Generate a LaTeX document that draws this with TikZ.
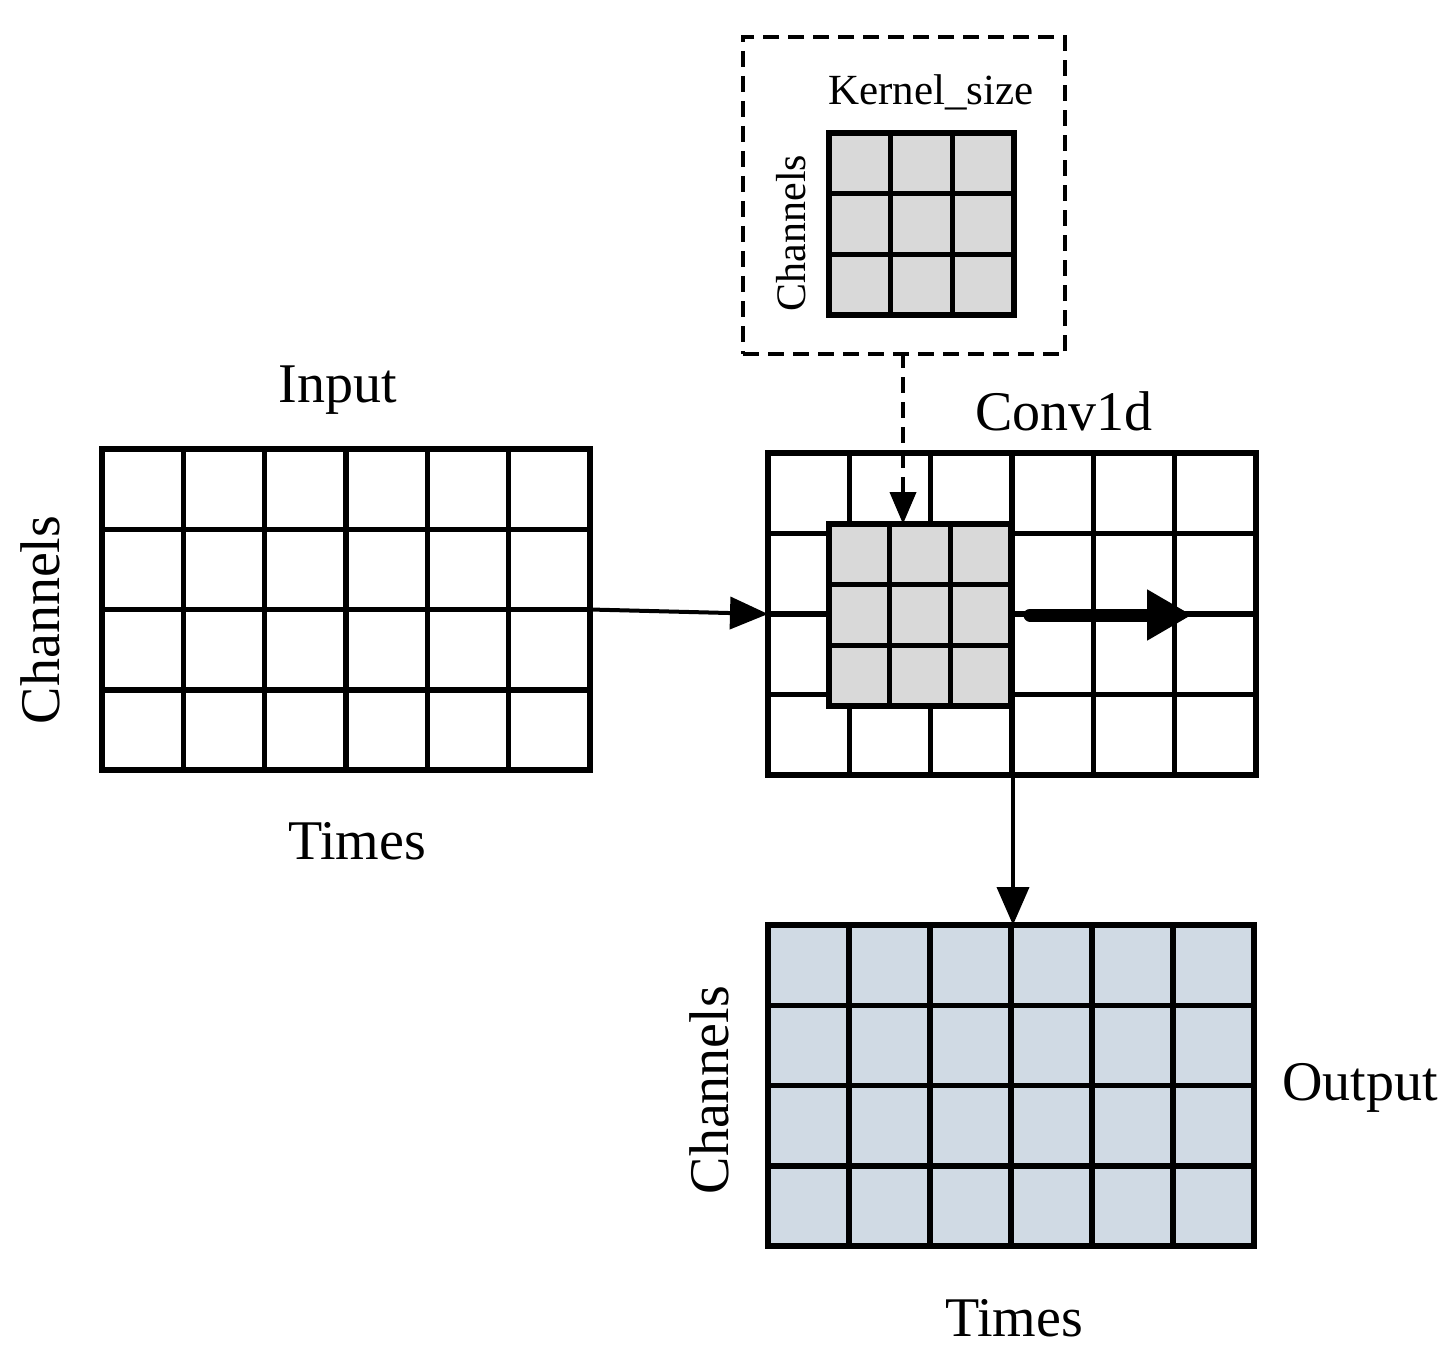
\documentclass[tikz,border=0pt]{standalone}
\usepackage{fontspec}
\setmainfont{Liberation Serif}
\usetikzlibrary{arrows.meta}
\definecolor{kgray}{RGB}{217,217,217}
\definecolor{oblue}{RGB}{208,218,228}
\tikzset{x=1pt,y=-1pt,
 grid/.style={draw,line width=5.5pt,inner sep=0,outer sep=0},
 lab/.style={font=\fontsize{56}{56}\selectfont},
 arr/.style={line width=4pt,-{Triangle[length=38pt,width=32pt]}}}
\newcommand{\mygrid}[7]{% name,x0,y0,x1,y1,cols,rows
 \node[grid,minimum width=#4-#2,minimum height=#5-#3,anchor=north west] (#1) at (#2,#3) {};
 \foreach \i in {1,...,#6}{\pgfmathsetmacro\xx{#2+(#4-#2)*\i/#6}\ifnum\i<#6\draw[line width=5.5pt] (\xx,#3)--(\xx,#5);\fi}
 \foreach \j in {1,...,#7}{\pgfmathsetmacro\yy{#3+(#5-#3)*\j/#7}\ifnum\j<#7\draw[line width=5.5pt] (#2,\yy)--(#4,\yy);\fi}
}
\begin{document}
\begin{tikzpicture}
\useasboundingbox (0,0) rectangle (1449,1367);
\fill[oblue] (768,925) rectangle (1254,1246);
\fill[kgray] (829,133) rectangle (1014,315);
\mygrid{in}{102}{449}{590}{770}{6}{4}
\mygrid{conv}{768}{453}{1256}{775}{6}{4}
\fill[kgray] (829,524) rectangle (1011,706);
\mygrid{k2}{829}{524}{1011}{706}{3}{3}
\mygrid{out}{768}{925}{1254}{1246}{6}{4}
\mygrid{k1}{829}{133}{1014}{315}{3}{3}
\node[draw,line width=4pt,dash pattern=on 16pt off 9pt,minimum width=322pt,minimum height=317pt,anchor=north west,inner sep=0] (box) at (741,35) {};
\draw[line width=4pt,dash pattern=on 16pt off 9pt,-{Triangle[length=32pt,width=26pt]}] (903,352)--(903,524);
\draw[arr] (in.east)--(conv.west);
\coordinate (ts) at (1030,615); \coordinate (te) at (1192,615);
\draw[line width=13pt,line cap=round,-{Triangle[length=45pt,width=48pt]}] (ts)--(te);
\coordinate (cb) at (1013,775); \coordinate (ot) at (1013,925);
\draw[arr] (cb)--(ot);
\node[lab] (t1) at (338,390) {Input};
\node[lab,rotate=90] (t2) at (40,620) {Channels};
\node[lab] (t3) at (357,841) {Times};
\node[lab] (t4) at (1064,411) {Conv1d};
\node[font=\fontsize{43}{43}\selectfont] (t5) at (931,92) {Kernel\_size};
\node[font=\fontsize{42}{42}\selectfont,rotate=90] (t6) at (791,233) {Channels};
\node[lab] (t7) at (1360,1088) {Output};
\node[lab,rotate=90] (t8) at (709,1090) {Channels};
\node[lab] (t9) at (1014,1318) {Times};
\end{tikzpicture}
\end{document}
